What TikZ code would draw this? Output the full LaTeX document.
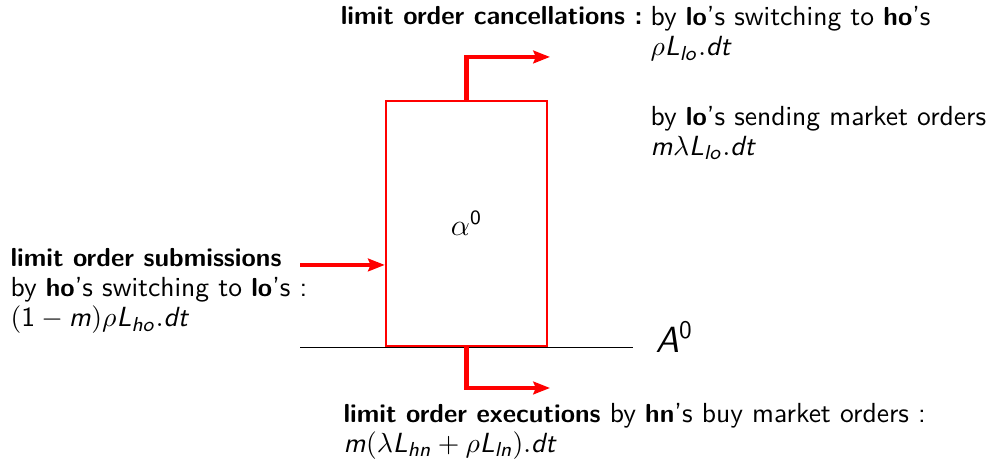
\documentclass[tikz,border=0pt]{standalone}
\usepackage{amsmath}
\usepackage{tikz}
\usetikzlibrary{arrows.meta}
\DeclareMathAlphabet{\mathsfsl}{OT1}{cmss}{m}{sl}
\newcommand{\sv}[1]{\mathsfsl{#1}}
\newcommand{\sn}[1]{\mathsf{#1}}
\newcommand{\hd}[1]{{\bfseries\fontsize{10.3}{11.9}\selectfont #1}}

\begin{document}
\begin{tikzpicture}[font=\sffamily\fontsize{10.9}{11.9}\selectfont,
  flow/.style={red, line width=1.6pt, -{Stealth[length=6.6pt,width=5pt,inset=1pt]}},
  stock/.style={draw=red, line width=0.95pt, minimum width=2.238cm, minimum height=3.406cm, inner sep=0pt},
  txt/.style={inner sep=0pt, align=left}]
  \useasboundingbox (0,0) rectangle (13.83cm,6.505cm);
  \node[stock] (box) at (6.484cm,3.399cm) {\large $\alpha^{\sn{0}}$};
  \coordinate (aL) at (4.17cm,1.675cm);
  \coordinate (aR) at (8.799cm,1.675cm);
  \draw[line width=0.6pt] (aL) -- (aR);
  \node[anchor=base west, inner sep=0pt] (alabel) at (9.105cm,1.612cm) {\Large $\sv{A}^{\sn{0}}$};
  \coordinate (cancel) at (7.645cm,5.713cm);
  \coordinate (exec) at (7.645cm,1.112cm);
  \coordinate (submit) at (4.17cm,2.822cm);
  \draw[flow] (box.north) |- (cancel);
  \draw[flow] (box.south) |- (exec);
  \draw[flow] (submit) -- (submit -| box.west);
  \node[anchor=base east, inner sep=0pt] (cancelhead) at (8.938cm,6.158cm) {\hd{limit order cancellations :}};
  \node[txt, anchor=north west] (canceltxt) at (9.035cm,6.42cm)
    {by \hd{lo}'s switching to \hd{ho}'s\\
     $\rho\sv{L}_{\sv{lo}}.\sv{dt}$\\[15.5pt]
     by \hd{lo}'s sending market orders\\
     $\sv{m}\lambda\sv{L}_{\sv{lo}}.\sv{dt}$};
  \node[txt, anchor=north west] (submittxt) at (0.139cm,3.06cm)
    {\hd{limit order submissions}\\
     by \hd{ho}'s switching to \hd{lo}'s :\\
     $(\sn{1}-\sv{m})\rho\sv{L}_{\sv{ho}}.\sv{dt}$};
  \node[txt, anchor=north west] (exectxt) at (4.768cm,0.91cm)
    {\hd{limit order executions} by \hd{hn}'s buy market orders :\\
     $\sv{m}(\lambda\sv{L}_{\sv{hn}}+\rho\sv{L}_{\sv{ln}}).\sv{dt}$};
\end{tikzpicture}
\end{document}
